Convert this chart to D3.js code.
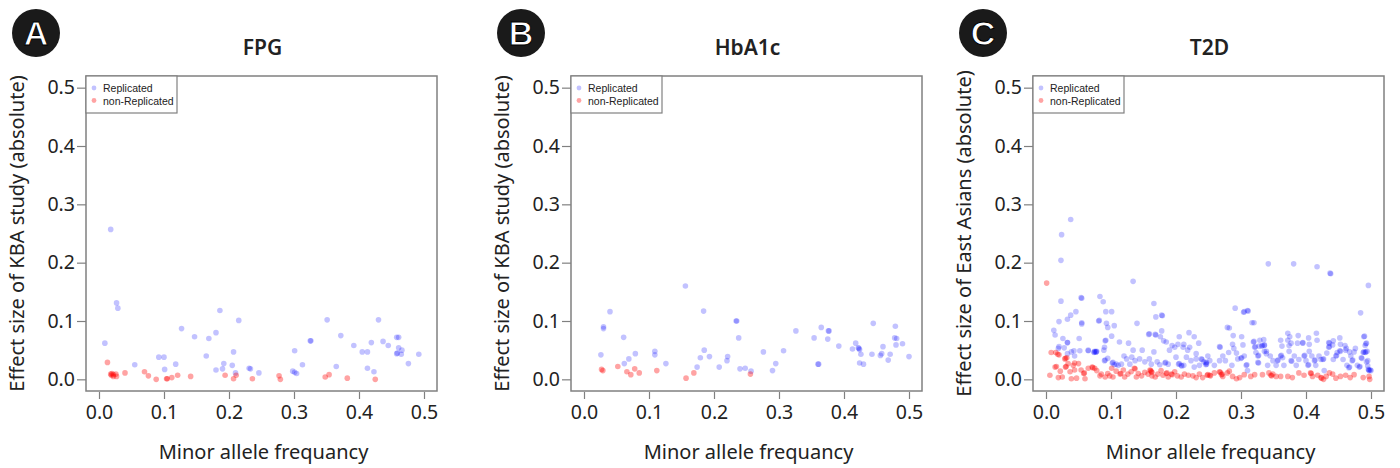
<!DOCTYPE html>
<html><head><meta charset="utf-8">
<script src="https://cdn.jsdelivr.net/npm/d3@7"></script>
<style>
html,body{margin:0;padding:0;background:#fff;}
svg{display:block;}
</style>
</head><body>
<svg id="chart" width="1400" height="468"></svg>
<script>
// ---------- DATA ----------
const panelLetters = ["A", "B", "C"];
const panelTitles = ["FPG", "HbA1c", "T2D"];
const yAxisTitles = ["Effect size of KBA study (absolute)", "Effect size of KBA study (absolute)", "Effect size of East Asians (absolute)"];
const xAxisTitle = "Minor allele frequancy";
const legendLabels = ["Replicated", "non-Replicated"];
const xTickValues = [0, 0.1, 0.2, 0.3, 0.4, 0.5];
const yTickValues = [0, 0.1, 0.2, 0.3, 0.4, 0.5];

// [minor allele frequency, absolute effect size]
const fpgReplicated = [
[0.018,0.257],[0.009,0.062],[0.027,0.131],[0.029,0.122],[0.055,0.025],[0.092,0.038],[0.100,0.038],[0.101,0.017],
[0.118,0.026],[0.127,0.087],[0.147,0.073],[0.165,0.040],[0.169,0.070],[0.180,0.080],[0.186,0.118],[0.180,0.016],
[0.190,0.018],[0.192,0.027],[0.205,0.024],[0.207,0.047],[0.210,0.011],[0.215,0.101],[0.231,0.019],[0.233,0.018],
[0.246,0.011],[0.301,0.049],[0.298,0.014],[0.301,0.012],[0.304,0.010],[0.313,0.025],[0.325,0.066],[0.326,0.066],
[0.351,0.102],[0.365,0.022],[0.372,0.075],[0.392,0.058],[0.405,0.047],[0.413,0.047],[0.413,0.019],[0.419,0.063],
[0.423,0.013],[0.430,0.102],[0.437,0.065],[0.445,0.058],[0.458,0.072],[0.461,0.072],[0.458,0.044],[0.459,0.045],
[0.461,0.054],[0.466,0.050],[0.465,0.043],[0.476,0.027],[0.492,0.043]
];
const fpgNonReplicated = [
[0.013,0.029],[0.018,0.009],[0.019,0.007],[0.020,0.010],[0.022,0.008],[0.022,0.005],[0.026,0.009],[0.027,0.005],
[0.040,0.011],[0.070,0.013],[0.076,0.006],[0.088,0.000],[0.104,0.001],[0.105,0.001],[0.112,0.003],[0.121,0.007],
[0.141,0.005],[0.194,0.007],[0.207,0.001],[0.211,0.007],[0.236,0.001],[0.277,0.006],[0.279,0.000],[0.348,0.004],
[0.354,0.008],[0.382,0.002],[0.425,0.000]
];
const hba1cReplicated = [
[0.026,0.042],[0.030,0.090],[0.030,0.087],[0.040,0.116],[0.061,0.072],[0.062,0.027],[0.069,0.035],[0.079,0.044],
[0.109,0.048],[0.109,0.042],[0.126,0.027],[0.156,0.160],[0.174,0.021],[0.179,0.037],[0.184,0.117],[0.185,0.050],
[0.193,0.039],[0.208,0.021],[0.221,0.039],[0.220,0.032],[0.234,0.100],[0.235,0.100],[0.238,0.071],[0.240,0.018],
[0.248,0.019],[0.257,0.014],[0.276,0.047],[0.290,0.015],[0.295,0.027],[0.307,0.049],[0.326,0.083],[0.354,0.071],
[0.360,0.026],[0.361,0.026],[0.365,0.089],[0.376,0.083],[0.377,0.083],[0.375,0.069],[0.392,0.057],[0.413,0.052],
[0.418,0.062],[0.422,0.054],[0.423,0.053],[0.424,0.051],[0.426,0.043],[0.424,0.028],[0.430,0.026],[0.443,0.043],
[0.445,0.096],[0.456,0.041],[0.458,0.044],[0.460,0.056],[0.468,0.033],[0.471,0.043],[0.479,0.091],[0.478,0.071],
[0.481,0.070],[0.480,0.059],[0.490,0.061],[0.500,0.039]
];
const hba1cNonReplicated = [
[0.027,0.017],[0.029,0.015],[0.052,0.022],[0.066,0.013],[0.072,0.008],[0.078,0.018],[0.085,0.011],[0.112,0.015],
[0.157,0.002],[0.169,0.011],[0.256,0.009]
];
const t2dReplicated = [
[0.038,0.274],[0.024,0.248],[0.023,0.204],[0.023,0.134],[0.054,0.140],[0.055,0.139],[0.134,0.168],[0.342,0.198],
[0.381,0.198],[0.417,0.193],[0.437,0.182],[0.438,0.181],[0.496,0.161],[0.484,0.114],[0.083,0.142],[0.088,0.133],
[0.092,0.116],[0.101,0.116],[0.046,0.116],[0.038,0.110],[0.033,0.103],[0.081,0.100],[0.082,0.101],[0.055,0.095],
[0.055,0.097],[0.020,0.099],[0.012,0.084],[0.014,0.076],[0.026,0.070],[0.033,0.063],[0.020,0.056],[0.051,0.070],
[0.093,0.096],[0.095,0.089],[0.105,0.092],[0.101,0.074],[0.091,0.066],[0.092,0.067],[0.090,0.055],[0.077,0.047],
[0.078,0.048],[0.074,0.046],[0.065,0.049],[0.043,0.049],[0.033,0.044],[0.113,0.064],[0.127,0.062],[0.140,0.096],
[0.134,0.050],[0.166,0.130],[0.169,0.107],[0.178,0.110],[0.179,0.109],[0.158,0.077],[0.159,0.078],[0.168,0.077],
[0.169,0.076],[0.176,0.073],[0.181,0.066],[0.178,0.083],[0.185,0.064],[0.205,0.073],[0.203,0.060],[0.212,0.060],
[0.211,0.055],[0.220,0.080],[0.228,0.073],[0.235,0.062],[0.231,0.044],[0.267,0.056],[0.279,0.089],[0.282,0.088],
[0.288,0.075],[0.291,0.122],[0.304,0.115],[0.305,0.116],[0.310,0.118],[0.311,0.117],[0.317,0.097],[0.320,0.097],
[0.319,0.064],[0.320,0.065],[0.301,0.073],[0.329,0.067],[0.335,0.068],[0.336,0.059],[0.339,0.048],[0.361,0.067],
[0.372,0.079],[0.375,0.073],[0.388,0.075],[0.374,0.058],[0.395,0.063],[0.404,0.071],[0.405,0.060],[0.416,0.079],
[0.435,0.063],[0.436,0.062],[0.442,0.066],[0.452,0.071],[0.460,0.058],[0.462,0.053],[0.467,0.047],[0.476,0.053],
[0.489,0.073],[0.490,0.074],[0.491,0.058],[0.491,0.046],[0.492,0.047],[0.486,0.036],[0.493,0.030],[0.495,0.023],
[0.496,0.017],[0.497,0.016],
[0.028,0.054],[0.033,0.063],[0.019,0.053],[0.039,0.047],[0.044,0.040],[0.052,0.049],[0.065,0.050],[0.074,0.047],
[0.075,0.048],[0.077,0.047],[0.089,0.050],[0.090,0.032],[0.091,0.033],[0.095,0.036],[0.102,0.028],[0.103,0.029],
[0.105,0.025],[0.108,0.026],[0.111,0.024],[0.116,0.026],[0.120,0.040],[0.124,0.035],[0.129,0.026],[0.132,0.038],
[0.137,0.032],[0.144,0.035],[0.148,0.050],[0.152,0.030],[0.159,0.035],[0.162,0.026],[0.166,0.047],[0.171,0.030],
[0.175,0.025],[0.183,0.028],[0.184,0.029],[0.188,0.026],[0.190,0.050],[0.194,0.058],[0.198,0.055],[0.200,0.038],
[0.204,0.026],[0.205,0.027],[0.208,0.024],[0.209,0.023],[0.212,0.024],[0.216,0.038],[0.218,0.050],[0.221,0.055],
[0.223,0.032],[0.228,0.021],[0.231,0.035],[0.236,0.024],[0.239,0.035],[0.240,0.034],[0.243,0.030],[0.246,0.025],
[0.247,0.026],[0.249,0.040],
[0.246,0.028],[0.247,0.029],[0.252,0.032],[0.259,0.024],[0.267,0.032],[0.268,0.055],[0.272,0.040],[0.276,0.032],
[0.281,0.046],[0.286,0.024],[0.287,0.060],[0.289,0.053],[0.293,0.045],[0.295,0.035],[0.300,0.036],[0.301,0.037],
[0.303,0.059],[0.305,0.040],[0.308,0.024],[0.309,0.025],[0.310,0.015],[0.321,0.055],[0.322,0.056],[0.323,0.046],
[0.326,0.040],[0.327,0.041],[0.326,0.029],[0.327,0.028],[0.328,0.057],[0.332,0.057],[0.333,0.058],[0.336,0.058],
[0.336,0.048],[0.339,0.044],[0.341,0.024],[0.345,0.040],[0.349,0.032],[0.354,0.024],[0.356,0.032],[0.357,0.033],
[0.361,0.040],[0.362,0.041],[0.364,0.037],[0.363,0.057],[0.366,0.024],[0.372,0.067],[0.374,0.048],[0.377,0.062],
[0.377,0.032],[0.378,0.031],[0.382,0.040],[0.385,0.024],[0.387,0.062],[0.389,0.034],[0.395,0.062],[0.397,0.040],
[0.398,0.041],[0.400,0.032],[0.403,0.024],[0.404,0.025],[0.405,0.048],[0.409,0.040],[0.413,0.032],[0.414,0.033],
[0.415,0.024],[0.417,0.067],[0.420,0.040],[0.423,0.034],[0.426,0.034],[0.427,0.035],[0.428,0.015],[0.432,0.045],
[0.435,0.055],[0.436,0.056],[0.441,0.059],[0.442,0.034],[0.446,0.040],[0.447,0.041],[0.448,0.046],[0.452,0.049],
[0.453,0.048],[0.453,0.060],[0.457,0.034],[0.461,0.050],[0.463,0.024],[0.466,0.020],[0.467,0.021],[0.469,0.040],
[0.471,0.032],[0.472,0.033],[0.474,0.047],[0.479,0.024],[0.482,0.021],[0.483,0.022],[0.485,0.037],[0.488,0.046],
[0.489,0.047],[0.492,0.061],[0.493,0.062],[0.494,0.048],[0.495,0.032],[0.497,0.015],[0.500,0.015],[0.499,0.016]
];
const t2dNonReplicated = [
[0.001,0.165],[0.006,0.007],[0.008,0.046],[0.014,0.021],[0.018,0.043],[0.019,0.003],[0.022,0.014],[0.025,0.004],
[0.029,0.035],[0.030,0.036],[0.030,0.021],[0.031,0.022],[0.032,0.037],[0.034,0.027],[0.037,0.013],[0.039,0.001],
[0.042,0.024],[0.044,0.016],[0.047,0.002],[0.050,0.027],[0.054,0.016],[0.058,0.010],[0.059,0.011],[0.060,0.001],
[0.065,0.019],[0.071,0.021],[0.072,0.020],[0.075,0.019],[0.078,0.015],[0.083,0.006],[0.085,0.009],[0.091,0.004],
[0.095,0.010],[0.098,0.006],[0.101,0.019],[0.103,0.004],[0.108,0.014],[0.114,0.009],[0.115,0.010],[0.119,0.016],
[0.121,0.004],[0.126,0.009],[0.131,0.013],[0.136,0.019],[0.137,0.018],[0.139,0.004],[0.142,0.010],[0.147,0.006],
[0.152,0.012],[0.157,0.009],[0.160,0.016],[0.161,0.015],[0.162,0.013],[0.163,0.012],[0.163,0.006],[0.168,0.004],
[0.172,0.009],[0.177,0.015],[0.180,0.007],[0.185,0.010],[0.186,0.011],[0.188,0.004],[0.193,0.009],[0.194,0.008],
[0.198,0.013],[0.202,0.006],[0.208,0.004],[0.213,0.009],[0.219,0.007],[0.226,0.006],[0.231,0.003],[0.236,0.009],
[0.241,0.003],[0.248,0.007],[0.249,0.008],[0.015,0.046],[0.016,0.022],[0.020,0.042],[0.044,0.028],
[0.252,0.007],[0.253,0.006],[0.259,0.011],[0.267,0.013],[0.268,0.012],[0.270,0.008],[0.271,0.009],[0.272,0.005],
[0.279,0.011],[0.282,0.014],[0.287,0.005],[0.293,0.001],[0.298,0.003],[0.305,0.008],[0.315,0.005],[0.321,0.008],
[0.333,0.008],[0.343,0.011],[0.346,0.007],[0.347,0.006],[0.349,0.009],[0.354,0.005],[0.361,0.005],[0.372,0.005],
[0.379,0.003],[0.389,0.011],[0.397,0.007],[0.407,0.011],[0.408,0.010],[0.410,0.005],[0.418,0.007],[0.423,0.003],
[0.424,0.002],[0.427,0.000],[0.431,0.005],[0.436,0.011],[0.441,0.009],[0.446,0.002],[0.453,0.005],[0.461,0.007],
[0.468,0.003],[0.474,0.008],[0.488,0.003],[0.497,0.005],[0.498,0.000]
];

const panelReplicated = [fpgReplicated, hba1cReplicated, t2dReplicated];
const panelNonReplicated = [fpgNonReplicated, hba1cNonReplicated, t2dNonReplicated];

// ---------- LAYOUT ----------
const svg = d3.select("#chart");
const boxLefts = [86, 571, 1033];
const boxWidth = 351;
const boxTop = 76, boxBottom = 391;
const domain = [-0.02, 0.52];
const blueFill = "rgba(0,0,255,0.24)";
const redFill = "rgba(255,0,0,0.36)";
const axisColor = "#808080";
const textColor = "#222";
const font = "'Noto Sans', 'Open Sans', sans-serif";

panelTitles.forEach((title, i) => {
  const L = boxLefts[i];
  const x = d3.scaleLinear().domain(domain).range([L, L + boxWidth]);
  const y = d3.scaleLinear().domain(domain).range([boxBottom, boxTop]);
  const g = svg.append("g");

  // points
  const drawPts = (data, fill) => g.append("g").selectAll("circle").data(data).join("circle")
    .attr("cx", d => x(d[0])).attr("cy", d => y(d[1])).attr("r", 2.8).attr("fill", fill);
  drawPts(panelReplicated[i], blueFill);
  drawPts(panelNonReplicated[i], redFill);

  // box
  g.append("rect").attr("x", L).attr("y", boxTop).attr("width", boxWidth).attr("height", boxBottom - boxTop)
    .attr("fill", "none").attr("stroke", axisColor).attr("stroke-width", 1.5);

  // axes
  const xAxis = d3.axisBottom(x).tickValues(xTickValues).tickFormat(d3.format(".1f")).tickSize(7).tickPadding(6);
  const gx = g.append("g").attr("transform", `translate(0,${boxBottom + 1})`).call(xAxis);
  const yAxis = d3.axisLeft(y).tickValues(yTickValues).tickFormat(d3.format(".1f")).tickSize(9).tickPadding(2);
  const gy = g.append("g").attr("transform", `translate(${L},0)`).call(yAxis);
  [gx, gy].forEach(a => {
    a.select(".domain").remove();
    a.selectAll(".tick line").attr("stroke", axisColor).attr("stroke-width", 1.2);
    a.selectAll(".tick text").attr("fill", textColor).style("font-family", font).style("font-size", "19.5px");
  });

  // axis titles
  g.append("text").attr("x", L + boxWidth / 2 + 2).attr("y", 459).attr("text-anchor", "middle")
    .attr("fill", textColor).style("font-family", font).style("font-size", "20px").text(xAxisTitle);
  g.append("text").attr("transform", `translate(${L - 62},${(boxTop + boxBottom) / 2 + 0}) rotate(-90)`)
    .attr("text-anchor", "middle").attr("fill", textColor).style("font-family", font).style("font-size", "20px")
    .text(yAxisTitles[i]);

  // panel title
  g.append("text").attr("x", L + boxWidth / 2 + 1).attr("y", 55).attr("text-anchor", "middle")
    .attr("fill", textColor).style("font-family", font).style("font-size", "21px").style("font-weight", 600)
    .text(title);

  // badge
  const bx = L - 50, by = 33;
  g.append("circle").attr("cx", bx).attr("cy", by).attr("r", 24).attr("fill", "#1a1a1a");
  g.append("text").attr("x", bx).attr("y", by + 12).attr("text-anchor", "middle")
    .attr("fill", "#fff").attr("stroke", "#000").attr("stroke-width", 1)
    .style("font-family", "'Liberation Sans', Arial, sans-serif").style("font-size", "34px").style("font-weight", "bold")
    .text(panelLetters[i]);

  // legend
  const lg = g.append("g");
  lg.append("rect").attr("x", L).attr("y", boxTop).attr("width", 91).attr("height", 37)
    .attr("fill", "#fff").attr("stroke", axisColor).attr("stroke-width", 1.2);
  [blueFill, redFill].forEach((c, k) => {
    lg.append("circle").attr("cx", L + 8).attr("cy", boxTop + 12 + k * 12.5).attr("r", 2.4).attr("fill", c);
    lg.append("text").attr("x", L + 17).attr("y", boxTop + 16 + k * 12.5).attr("fill", textColor)
      .style("font-family", "'Liberation Sans', Arial, sans-serif").style("font-size", "10.5px").text(legendLabels[k]);
  });
});
</script>
</body></html>
